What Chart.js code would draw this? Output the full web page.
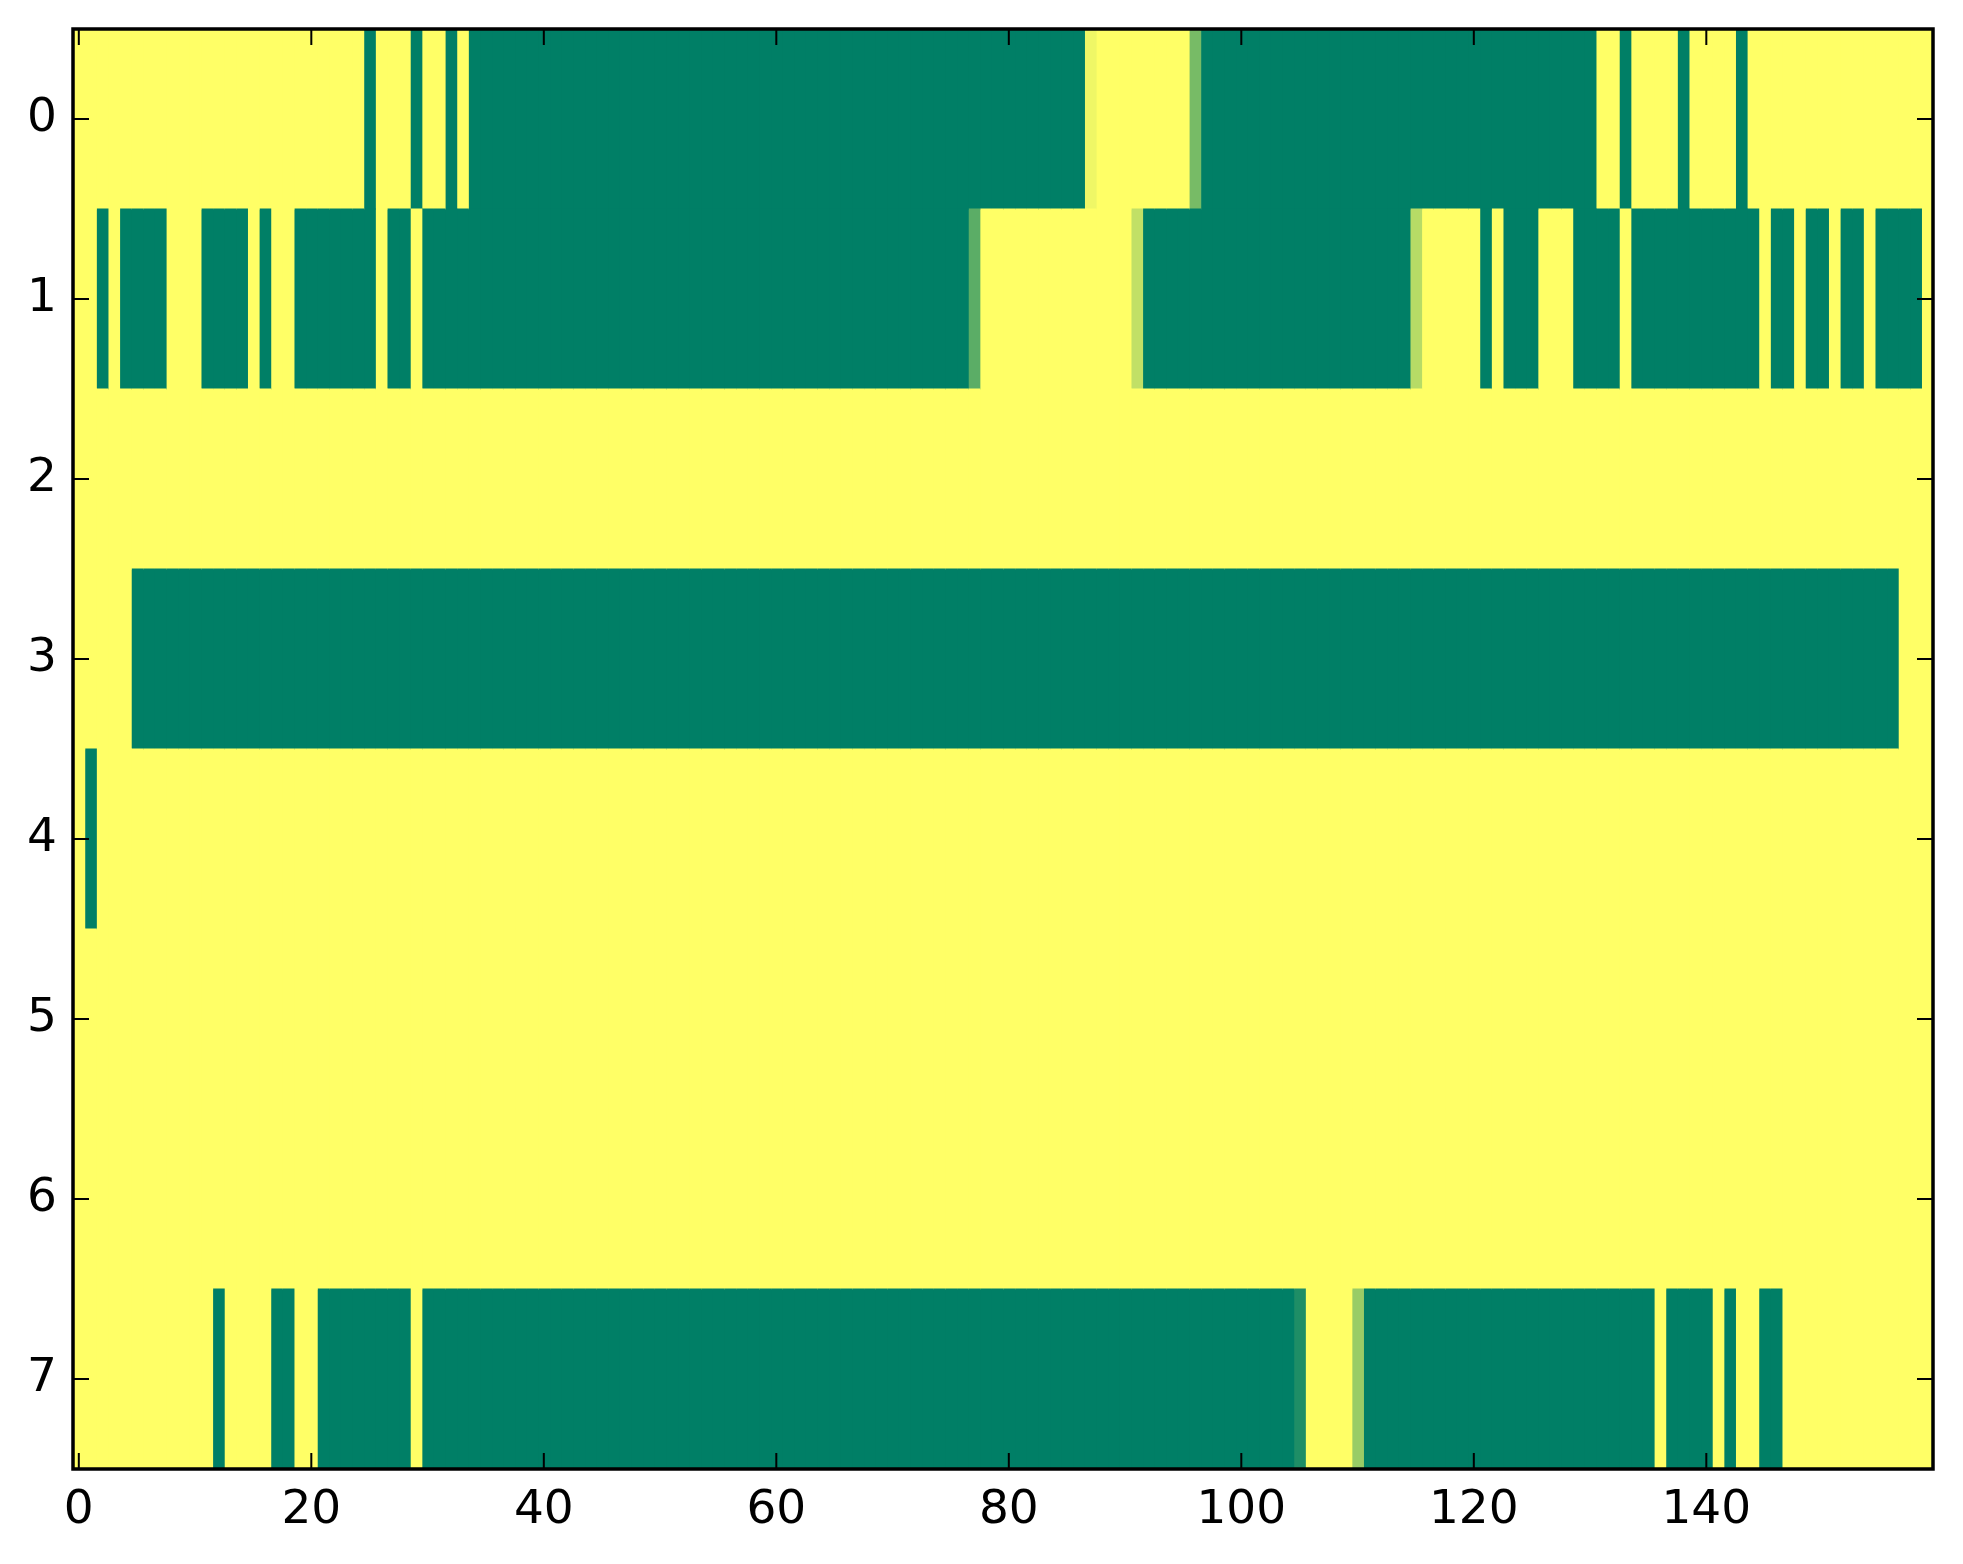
<!DOCTYPE html>
<html lang="en">
  <head>
    <meta charset="utf-8" />
    <title>Heatmap</title>
    <style>
      html, body { margin: 0; padding: 0; background: #fff; }
      #canvas { display: block; }
    </style>
  </head>
  <body>
    <div>
      <canvas id="canvas" width="1963" height="1564"></canvas>
    </div>

    <script src="https://cdn.jsdelivr.net/npm/chart.js"></script>

    <script>
      // row labels (y axis) and x tick values
      const rowLabels = ["0", "1", "2", "3", "4", "5", "6", "7"];
      const xTicks = [0, 20, 40, 60, 80, 100, 120, 140];

      // cell values per row, columns 0..159 (0 = yellow, 1 = green)
      const row0 = [
        0,0,0,0,0,0,0,0,0,0,0,0,0,0,0,0,0,0,0,0,
        0,0,0,0,0,1,0,0,0,1,0,0,1,0,1,1,1,1,1,1,
        1,1,1,1,1,1,1,1,1,1,1,1,1,1,1,1,1,1,1,1,
        1,1,1,1,1,1,1,1,1,1,1,1,1,1,1,1,1,1,1,1,
        1,1,1,1,1,1,1,0.06,0,0,0,0,0,0,0,0,0.53,1,1,1,
        1,1,1,1,1,1,1,1,1,1,1,1,1,1,1,1,1,1,1,1,
        1,1,1,1,1,1,1,1,1,1,1,0,0,1,0,0,0,0,1,0,
        0,0,0,1,0,0,0,0,0,0,0,0,0,0,0,0,0,0,0,0,
      ];
      const row1 = [
        0,0,1,0,1,1,1,1,0,0,0,1,1,1,1,0,1,0,0,1,
        1,1,1,1,1,1,0,1,1,0,1,1,1,1,1,1,1,1,1,1,
        1,1,1,1,1,1,1,1,1,1,1,1,1,1,1,1,1,1,1,1,
        1,1,1,1,1,1,1,1,1,1,1,1,1,1,1,1,1,0.64,0,0,
        0,0,0,0,0,0,0,0,0,0,0,0.24,1,1,1,1,1,1,1,1,
        1,1,1,1,1,1,1,1,1,1,1,1,1,1,1,0.28,0,0,0,0,
        0,1,0,1,1,1,0,0,0,1,1,1,1,0,1,1,1,1,1,1,
        1,1,1,1,1,0,1,1,0,1,1,0,1,1,0,1,1,1,1,0,
      ];
      const row2 = [
        0,0,0,0,0,0,0,0,0,0,0,0,0,0,0,0,0,0,0,0,
        0,0,0,0,0,0,0,0,0,0,0,0,0,0,0,0,0,0,0,0,
        0,0,0,0,0,0,0,0,0,0,0,0,0,0,0,0,0,0,0,0,
        0,0,0,0,0,0,0,0,0,0,0,0,0,0,0,0,0,0,0,0,
        0,0,0,0,0,0,0,0,0,0,0,0,0,0,0,0,0,0,0,0,
        0,0,0,0,0,0,0,0,0,0,0,0,0,0,0,0,0,0,0,0,
        0,0,0,0,0,0,0,0,0,0,0,0,0,0,0,0,0,0,0,0,
        0,0,0,0,0,0,0,0,0,0,0,0,0,0,0,0,0,0,0,0,
      ];
      const row3 = [
        0,0,0,0,0,1,1,1,1,1,1,1,1,1,1,1,1,1,1,1,
        1,1,1,1,1,1,1,1,1,1,1,1,1,1,1,1,1,1,1,1,
        1,1,1,1,1,1,1,1,1,1,1,1,1,1,1,1,1,1,1,1,
        1,1,1,1,1,1,1,1,1,1,1,1,1,1,1,1,1,1,1,1,
        1,1,1,1,1,1,1,1,1,1,1,1,1,1,1,1,1,1,1,1,
        1,1,1,1,1,1,1,1,1,1,1,1,1,1,1,1,1,1,1,1,
        1,1,1,1,1,1,1,1,1,1,1,1,1,1,1,1,1,1,1,1,
        1,1,1,1,1,1,1,1,1,1,1,1,1,1,1,1,1,0,0,0,
      ];
      const row4 = [
        0,1,0,0,0,0,0,0,0,0,0,0,0,0,0,0,0,0,0,0,
        0,0,0,0,0,0,0,0,0,0,0,0,0,0,0,0,0,0,0,0,
        0,0,0,0,0,0,0,0,0,0,0,0,0,0,0,0,0,0,0,0,
        0,0,0,0,0,0,0,0,0,0,0,0,0,0,0,0,0,0,0,0,
        0,0,0,0,0,0,0,0,0,0,0,0,0,0,0,0,0,0,0,0,
        0,0,0,0,0,0,0,0,0,0,0,0,0,0,0,0,0,0,0,0,
        0,0,0,0,0,0,0,0,0,0,0,0,0,0,0,0,0,0,0,0,
        0,0,0,0,0,0,0,0,0,0,0,0,0,0,0,0,0,0,0,0,
      ];
      const row5 = [
        0,0,0,0,0,0,0,0,0,0,0,0,0,0,0,0,0,0,0,0,
        0,0,0,0,0,0,0,0,0,0,0,0,0,0,0,0,0,0,0,0,
        0,0,0,0,0,0,0,0,0,0,0,0,0,0,0,0,0,0,0,0,
        0,0,0,0,0,0,0,0,0,0,0,0,0,0,0,0,0,0,0,0,
        0,0,0,0,0,0,0,0,0,0,0,0,0,0,0,0,0,0,0,0,
        0,0,0,0,0,0,0,0,0,0,0,0,0,0,0,0,0,0,0,0,
        0,0,0,0,0,0,0,0,0,0,0,0,0,0,0,0,0,0,0,0,
        0,0,0,0,0,0,0,0,0,0,0,0,0,0,0,0,0,0,0,0,
      ];
      const row6 = [
        0,0,0,0,0,0,0,0,0,0,0,0,0,0,0,0,0,0,0,0,
        0,0,0,0,0,0,0,0,0,0,0,0,0,0,0,0,0,0,0,0,
        0,0,0,0,0,0,0,0,0,0,0,0,0,0,0,0,0,0,0,0,
        0,0,0,0,0,0,0,0,0,0,0,0,0,0,0,0,0,0,0,0,
        0,0,0,0,0,0,0,0,0,0,0,0,0,0,0,0,0,0,0,0,
        0,0,0,0,0,0,0,0,0,0,0,0,0,0,0,0,0,0,0,0,
        0,0,0,0,0,0,0,0,0,0,0,0,0,0,0,0,0,0,0,0,
        0,0,0,0,0,0,0,0,0,0,0,0,0,0,0,0,0,0,0,0,
      ];
      const row7 = [
        0,0,0,0,0,0,0,0,0,0,0,0,1,0,0,0,0,1,1,0,
        0,1,1,1,1,1,1,1,1,0,1,1,1,1,1,1,1,1,1,1,
        1,1,1,1,1,1,1,1,1,1,1,1,1,1,1,1,1,1,1,1,
        1,1,1,1,1,1,1,1,1,1,1,1,1,1,1,1,1,1,1,1,
        1,1,1,1,1,1,1,1,1,1,1,1,1,1,1,1,1,1,1,1,
        1,1,1,1,1,0.88,0,0,0,0,0.4,1,1,1,1,1,1,1,1,1,
        1,1,1,1,1,1,1,1,1,1,1,1,1,1,1,1,0,1,1,1,
        1,0,1,0,0,1,1,0,0,0,0,0,0,0,0,0,0,0,0,0,
      ];

      const rows = [row0, row1, row2, row3, row4, row5, row6, row7];

      // summer_r colormap: 0 -> yellow, 1 -> green
      function cellColor(v) {
        const r = Math.floor(255 * (1 - v));
        const g = Math.floor(255 * (0.5 + (1 - v) / 2));
        return `rgb(${r}, ${g}, 102)`;
      }

      // one dataset per column, one floating bar per row
      const datasets = [];
      for (let c = 0; c < row0.length; c++) {
        datasets.push({
          data: rows.map(() => [c - 0.5, c + 0.5]),
          backgroundColor: rows.map((row) => cellColor(row[c])),
          borderWidth: 0,
          grouped: false,
          barPercentage: 1,
          categoryPercentage: 1,
          inflateAmount: 0.6,
        });
      }

      const tickFont = { family: "DejaVu Sans", size: 47 };

      // matplotlib-like frame with inward ticks on all four sides
      const frame = {
        id: "frame",
        afterDraw(chart) {
          const { ctx, chartArea: a } = chart;
          const x = chart.scales.x;
          const y = chart.scales.y;
          const len = 16;
          ctx.save();
          ctx.strokeStyle = "#000";
          ctx.lineWidth = 2;
          ctx.beginPath();
          xTicks.forEach((v) => {
            const px = x.getPixelForValue(v);
            ctx.moveTo(px, a.bottom);
            ctx.lineTo(px, a.bottom - len);
            ctx.moveTo(px, a.top);
            ctx.lineTo(px, a.top + len);
          });
          rowLabels.forEach((l, i) => {
            const py = y.getPixelForValue(i);
            ctx.moveTo(a.left, py);
            ctx.lineTo(a.left + len, py);
            ctx.moveTo(a.right, py);
            ctx.lineTo(a.right - len, py);
          });
          ctx.stroke();
          ctx.lineWidth = 3.5;
          ctx.strokeRect(a.left, a.top, a.right - a.left, a.bottom - a.top);
          ctx.restore();
        },
      };

      new Chart(document.getElementById("canvas"), {
        type: "bar",
        data: { labels: rowLabels, datasets },
        plugins: [frame],
        options: {
          indexAxis: "y",
          responsive: false,
          animation: false,
          devicePixelRatio: 1,
          layout: { padding: { top: 29, right: 30, left: 0, bottom: 0 } },
          plugins: { legend: { display: false }, tooltip: { enabled: false } },
          scales: {
            x: {
              type: "linear",
              min: -0.5,
              max: 159.5,
              grid: { display: false, drawTicks: false },
              border: { display: false },
              afterBuildTicks: (s) => {
                s.ticks = xTicks.map((v) => ({ value: v }));
              },
              ticks: { font: tickFont, color: "#000", padding: 14, maxRotation: 0, autoSkip: false },
              afterFit: (s) => {
                s.height = 95;
                s.paddingLeft = 0;
                s.paddingRight = 0;
              },
            },
            y: {
              type: "category",
              offset: true,
              grid: { display: false, drawTicks: false },
              border: { display: false },
              ticks: { font: tickFont, color: "#000", padding: 16 },
              afterFit: (s) => {
                s.width = 73;
                s.paddingTop = 0;
                s.paddingBottom = 0;
              },
            },
          },
        },
      });
    </script>
  </body>
</html>
